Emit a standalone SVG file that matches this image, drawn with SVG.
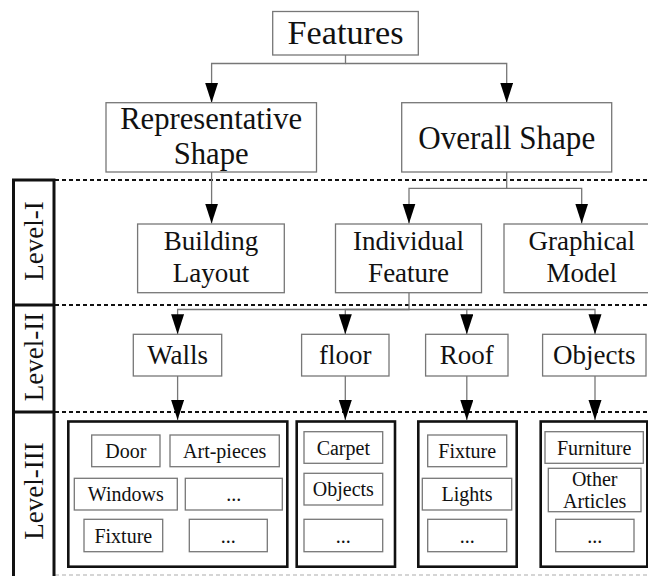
<svg xmlns="http://www.w3.org/2000/svg" width="648" height="576" viewBox="0 0 648 576">
<style>
text{font-family:"Liberation Serif","DejaVu Serif",serif;fill:#111;text-anchor:middle}
.t36{font-size:34px}
.t32{font-size:31px}
.t27{font-size:27px}
.t20{font-size:20px}
.box{fill:#fff;stroke:#777;stroke-width:1.3}
.cont{fill:none;stroke:#111;stroke-width:2.6}
.conn{fill:none;stroke:#777;stroke-width:1.3}
.dash{stroke:#111;stroke-width:2;stroke-dasharray:4 3}
</style>
<defs>
<marker id="arr" markerUnits="userSpaceOnUse" markerWidth="21" markerHeight="14" refX="20" refY="6.5" orient="auto" viewBox="0 0 21 14">
<path d="M0,0 L20,6.5 L0,13 z" fill="#000"/>
</marker>
</defs>
<rect width="648" height="576" fill="#fff"/>
<g id="levels">
<line class="dash" x1="55" y1="180" x2="648" y2="180"/>
<line class="dash" x1="55" y1="305" x2="648" y2="305"/>
<line class="dash" x1="55" y1="412" x2="648" y2="412"/>
<line x1="55" y1="575" x2="648" y2="575" stroke="#c8c8c8" stroke-width="1.5" stroke-dasharray="4 3"/>
<rect x="13.5" y="180" width="40.5" height="400" fill="none" stroke="#111" stroke-width="3"/>
<line x1="13.5" y1="305" x2="54" y2="305" stroke="#111" stroke-width="3"/>
<line x1="13.5" y1="412" x2="54" y2="412" stroke="#111" stroke-width="3"/>
<text class="t27" x="43" y="241" transform="rotate(-90 43 241)">Level-I</text>
<text class="t27" x="43" y="357" transform="rotate(-90 43 357)">Level-II</text>
<text class="t27" x="43" y="491" transform="rotate(-90 43 491)">Level-III</text>
</g>
<g id="connectors">
<path class="conn" d="M345.5,55 V63.5 H211.6 V102.7" marker-end="url(#arr)"/>
<path class="conn" d="M345.5,63.5 H506.7 V102.7" marker-end="url(#arr)"/>
<path class="conn" d="M211.6,172 V223.5" marker-end="url(#arr)"/>
<path class="conn" d="M506.7,172 V188.3 H409 V223.5" marker-end="url(#arr)"/>
<path class="conn" d="M506.7,188.3 H581.7 V223.5" marker-end="url(#arr)"/>
<path class="conn" d="M409,292.7 V309.5 H177.6 V334.3" marker-end="url(#arr)"/>
<path class="conn" d="M409,309.5 H345.3 V334.3" marker-end="url(#arr)"/>
<path class="conn" d="M409,309.5 H466.8 V334.3" marker-end="url(#arr)"/>
<path class="conn" d="M466.8,309.5 H595 V334.3" marker-end="url(#arr)"/>
<path class="conn" d="M177.6,376 V420" marker-end="url(#arr)"/>
<path class="conn" d="M345.3,376 V420" marker-end="url(#arr)"/>
<path class="conn" d="M466.8,376 V420" marker-end="url(#arr)"/>
<path class="conn" d="M595,376 V420" marker-end="url(#arr)"/>
</g>
<g id="features">
<rect class="box" x="272.7" y="11.5" width="145.6" height="43.5"/>
<text class="t36" x="345.5" y="43.5" textLength="116" lengthAdjust="spacingAndGlyphs">Features</text>
</g>
<g id="representative-shape">
<rect class="box" x="106" y="102.7" width="210.5" height="69.3"/>
<text class="t32" x="211.2" y="128.5" textLength="182" lengthAdjust="spacingAndGlyphs">Representative</text>
<text class="t32" x="211.2" y="164" textLength="75" lengthAdjust="spacingAndGlyphs">Shape</text>
</g>
<g id="overall-shape">
<rect class="box" x="401.7" y="102.7" width="210" height="69.3"/>
<text class="t36" x="506.7" y="148.5" textLength="177" lengthAdjust="spacingAndGlyphs">Overall Shape</text>
</g>
<g id="building-layout">
<rect class="box" x="137.6" y="224" width="146.7" height="68.7"/>
<text class="t27" x="211" y="250">Building</text>
<text class="t27" x="211" y="282">Layout</text>
</g>
<g id="individual-feature">
<rect class="box" x="335.5" y="224" width="146" height="68.7"/>
<text class="t27" x="408.6" y="250">Individual</text>
<text class="t27" x="408.6" y="282">Feature</text>
</g>
<g id="graphical-model">
<rect class="box" x="504" y="224" width="156" height="68.7"/>
<text class="t27" x="581.7" y="250">Graphical</text>
<text class="t27" x="581.7" y="282">Model</text>
</g>
<g id="walls">
<rect class="box" x="133.3" y="334.3" width="88.4" height="41.7"/>
<text class="t27" x="177.6" y="364">Walls</text>
</g>
<g id="floor">
<rect class="box" x="301.6" y="334.3" width="87.4" height="41.7"/>
<text class="t27" x="345.3" y="364">floor</text>
</g>
<g id="roof">
<rect class="box" x="425.6" y="334.3" width="82.4" height="41.7"/>
<text class="t27" x="466.8" y="364">Roof</text>
</g>
<g id="objects">
<rect class="box" x="542.6" y="334.3" width="103.4" height="41.7"/>
<text class="t27" x="594.3" y="364">Objects</text>
</g>
<g id="walls-items">
<rect class="cont" x="68.3" y="421.5" width="219" height="145.2"/>
<rect class="box" x="91.7" y="435" width="68.3" height="31.7"/>
<text class="t20" x="125.8" y="457.5">Door</text>
<rect class="box" x="170" y="435" width="109.3" height="31.7"/>
<text class="t20" x="224.7" y="457.5">Art-pieces</text>
<rect class="box" x="74.3" y="478.3" width="103" height="31.7"/>
<text class="t20" x="125.8" y="500.8">Windows</text>
<rect class="box" x="185.3" y="478.3" width="97" height="31.7"/>
<text class="t20" x="233.8" y="500.8">...</text>
<rect class="box" x="84" y="519.3" width="78.7" height="32.4"/>
<text class="t20" x="123.3" y="542.5">Fixture</text>
<rect class="box" x="189.3" y="519.3" width="78" height="32.4"/>
<text class="t20" x="228.3" y="542.5">...</text>
</g>
<g id="floor-items">
<rect class="cont" x="296.7" y="421.5" width="98.3" height="145.2"/>
<rect class="box" x="304" y="431.7" width="78.7" height="31.6"/>
<text class="t20" x="343.3" y="454.5">Carpet</text>
<rect class="box" x="304" y="473.3" width="78.7" height="31.7"/>
<text class="t20" x="343.3" y="495.5">Objects</text>
<rect class="box" x="304" y="519.3" width="78.7" height="32.4"/>
<text class="t20" x="343.3" y="542.5">...</text>
</g>
<g id="roof-items">
<rect class="cont" x="418.3" y="421.5" width="98.4" height="145.2"/>
<rect class="box" x="427.7" y="435" width="79" height="31.7"/>
<text class="t20" x="467.2" y="457.5">Fixture</text>
<rect class="box" x="422.3" y="478.3" width="89.4" height="31.7"/>
<text class="t20" x="467" y="500.8">Lights</text>
<rect class="box" x="427.7" y="519.3" width="79" height="32.4"/>
<text class="t20" x="467.2" y="542.5">...</text>
</g>
<g id="objects-items">
<rect class="cont" x="540.7" y="421.5" width="106.6" height="145.2"/>
<rect class="box" x="545" y="431.7" width="98.3" height="31.6"/>
<text class="t20" x="594.2" y="454.5">Furniture</text>
<rect class="box" x="548.3" y="468.3" width="92.7" height="43.4"/>
<text class="t20" x="594.7" y="485.5">Other</text>
<text class="t20" x="594.7" y="508">Articles</text>
<rect class="box" x="555.7" y="519.3" width="78.3" height="32.4"/>
<text class="t20" x="594.8" y="542.5">...</text>
</g>
</svg>
